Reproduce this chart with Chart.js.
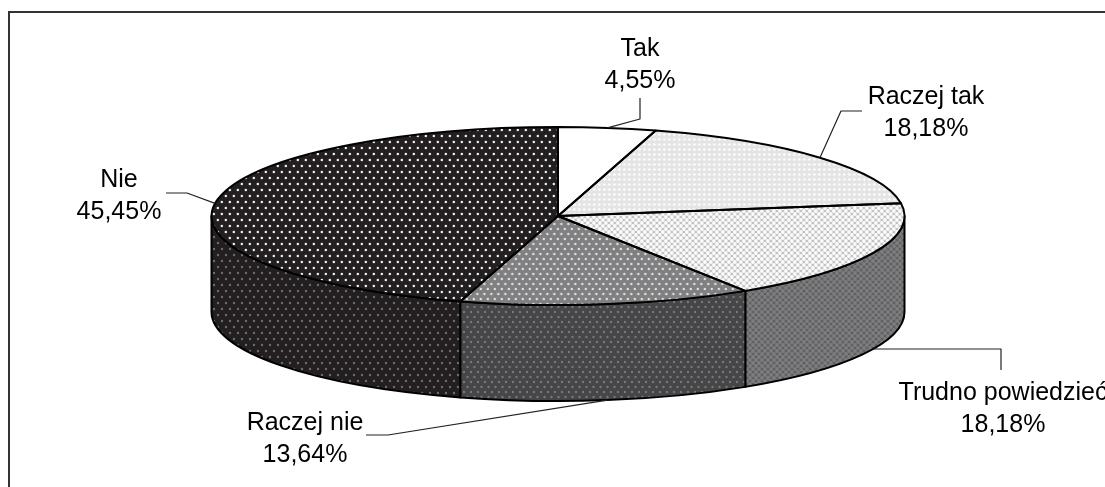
<!DOCTYPE html>
<html>
<head>
<meta charset="utf-8">
<script src="https://cdn.jsdelivr.net/npm/chart.js@4"></script>
<style>
  html, body { margin: 0; padding: 0; background: #fff; overflow: hidden; }
  canvas { display: block; }
</style>
</head>
<body>
<canvas id="pie" width="1105" height="487"></canvas>
<script>
const categories = ['Tak', 'Raczej tak', 'Trudno powiedzieć', 'Raczej nie', 'Nie']
const values = [4.55, 18.18, 18.18, 13.64, 45.45]

// label centre + elbow of the leader line, one per slice
const labelX = [640, 926, 1003, 305, 119]
const labelY = [49, 97, 393, 423, 180]
const elbows = [
    [[640, 98], [640, 119]],
    [[862, 111], [841, 111]],
    [[1001, 370], [1001, 349]],
    [[366, 435], [388, 435]],
    [[166, 193], [187, 193]]
]

// flattened pie: ellipse on the page and height of the wall
const CX = 558, CY = 216, RX = 346.5, RY = 89, DEPTH = 96

const ctx = document.getElementById('pie').getContext('2d')

function dots(w, h, bg, color, r, pts) {
    const c = document.createElement('canvas')
    c.width = w
    c.height = h
    const g = c.getContext('2d')
    g.fillStyle = bg
    g.fillRect(0, 0, w, h)
    g.fillStyle = color
    pts.forEach(p => {
        g.beginPath()
        g.arc(p[0], p[1], r, 0, Math.PI * 2)
        g.fill()
    })
    return ctx.createPattern(c, 'repeat')
}

const STAG8 = [[2, 3], [6, 9]]
const STAG7 = [[2, 2], [5.5, 7]]
const LATTICE = [[3, 3], [0, 0], [6, 0], [0, 6], [6, 6]]

const topFills = [
    '#ffffff',
    dots(5, 5, '#e4e4e4', '#ffffff', 1.3, [[2.5, 2.5]]),
    dots(6, 6, '#bdbdbd', '#ffffff', 1.9, LATTICE),
    dots(7, 10, '#808082', '#e4e4e4', 1.2, STAG7),
    dots(8, 12, '#231f20', '#ffffff', 1.2, STAG8)
]
const wallFills = [
    '#808080',
    '#808080',
    dots(6, 6, '#5f5f61', '#7e7e80', 1.9, LATTICE),
    dots(7, 10, '#464648', '#79797b', 1.2, STAG7),
    dots(8, 12, '#231f20', '#6e6e72', 1.2, STAG8)
]

function pct(v) {
    return v.toFixed(2).replace('.', ',') + '%'
}

const flatPie = {
    id: 'flatPie',
    beforeDatasetsDraw(chart) {
        const c = chart.ctx
        const arcs = chart.getDatasetMeta(0).data

        // frame, open on the right and at the bottom
        c.save()
        c.strokeStyle = '#333333'
        c.lineWidth = 2
        c.beginPath()
        c.moveTo(9, 487)
        c.lineTo(9, 12)
        c.lineTo(1105, 12)
        c.stroke()

        // side wall of the slices that face the viewer
        arcs.forEach((arc, i) => {
            const a = Math.max(arc.startAngle, 0)
            const b = Math.min(arc.endAngle, Math.PI)
            if (b <= a) return
            c.beginPath()
            c.ellipse(CX, CY, RX, RY, 0, a, b)
            c.lineTo(CX + RX * Math.cos(b), CY + RY * Math.sin(b) + DEPTH)
            c.ellipse(CX, CY + DEPTH, RX, RY, 0, b, a, true)
            c.closePath()
            c.fillStyle = wallFills[i]
            c.fill()
            c.strokeStyle = '#000'
            c.lineWidth = 2
            c.lineJoin = 'round'
            c.stroke()
        })
        c.restore()

        // squash the library's circle into the ellipse, patterns stay unscaled
        const arc = arcs[0]
        const sx = RX / arc.outerRadius
        const sy = RY / arc.outerRadius
        topFills.forEach(f => {
            if (f.setTransform) f.setTransform(new DOMMatrix().scale(1 / sx, 1 / sy))
        })
        c.save()
        c.translate(CX, CY)
        c.scale(sx, sy)
        c.translate(-arc.x, -arc.y)
    },
    afterDatasetsDraw(chart) {
        const c = chart.ctx
        c.restore()
        const arcs = chart.getDatasetMeta(0).data

        c.save()
        c.strokeStyle = '#000'
        c.lineWidth = 2
        c.lineJoin = 'round'
        arcs.forEach(arc => {
            c.beginPath()
            c.moveTo(CX, CY)
            c.ellipse(CX, CY, RX, RY, 0, arc.startAngle, arc.endAngle)
            c.closePath()
            c.stroke()
        })

        // leaders and labels
        c.lineWidth = 1.2
        c.strokeStyle = '#222'
        c.fillStyle = '#000'
        c.font = '25px "Liberation Sans", Arial, sans-serif'
        c.textAlign = 'center'
        c.textBaseline = 'middle'
        arcs.forEach((arc, i) => {
            const mid = (arc.startAngle + arc.endAngle) / 2
            const sin = Math.sin(mid)
            const tipX = CX + RX * Math.cos(mid)
            const tipY = CY + RY * sin + (sin > 0 ? DEPTH : 0)
            c.beginPath()
            c.moveTo(elbows[i][0][0], elbows[i][0][1])
            c.lineTo(elbows[i][1][0], elbows[i][1][1])
            c.lineTo(tipX, tipY)
            c.stroke()
            c.fillText(categories[i], labelX[i], labelY[i])
            c.fillText(pct(values[i]), labelX[i], labelY[i] + 32.5)
        })
        c.restore()
    }
}

new Chart(ctx, {
    type: 'pie',
    data: {
        labels: categories,
        datasets: [{
            data: values,
            backgroundColor: topFills,
            borderWidth: 0,
            clip: false
        }]
    },
    options: {
        responsive: false,
        devicePixelRatio: 1,
        animation: false,
        events: [],
        plugins: {
            legend: { display: false },
            tooltip: { enabled: false }
        }
    },
    plugins: [flatPie]
})
</script>
</body>
</html>
